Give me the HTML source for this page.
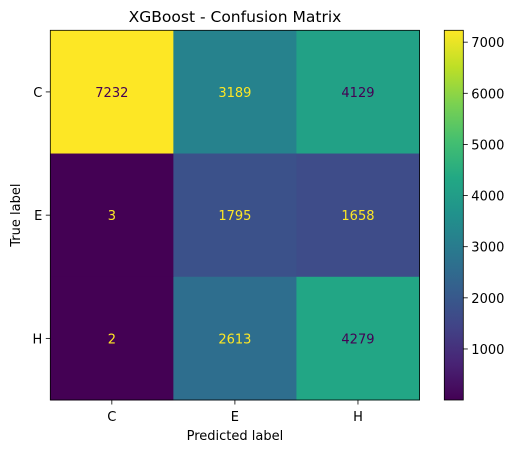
<!DOCTYPE html>
<html><head><meta charset="utf-8"><style>
html,body{margin:0;padding:0;background:#fff;}
svg{display:block;font-family:"DejaVu Sans","Liberation Sans",sans-serif;}
</style></head><body>
<svg id="chart" width="517" height="453" xmlns="http://www.w3.org/2000/svg">
<text x="235" y="22" font-size="15.5" text-anchor="middle" fill="#000">XGBoost - Confusion Matrix</text>
<g id="cells"></g>
<g id="axes"></g>
<defs><linearGradient id="vir" x1="0" y1="1" x2="0" y2="0"></linearGradient></defs>
<g id="cbar"></g>
</svg>
<script>
const classes = ["C","E","H"];
const rowC = [7232,3189,4129];
const rowE = [3,1795,1658];
const rowH = [2,2613,4279];
const cbTicks = [1000,2000,3000,4000,5000,6000,7000];
const matrix = [rowC,rowE,rowH];
const NS="http://www.w3.org/2000/svg";
const FS="13";
const stops=["#440154","#482475","#414487","#355f8d","#2a788e","#21918c","#22a884","#44bf70","#7ad151","#bddf26","#fde725"];
function hex(h){return [1,3,5].map(i=>parseInt(h.substr(i,2),16));}
function viridis(t){t=Math.max(0,Math.min(1,t));const p=t*10,i=Math.min(9,Math.floor(p)),f=p-i;const a=hex(stops[i]),b=hex(stops[i+1]);return "rgb("+a.map((v,k)=>Math.round(v+(b[k]-v)*f)).join(",")+")";}
const all=matrix.flat();const vmin=Math.min(...all),vmax=Math.max(...all);
const X0=50.3,X1=419.5,Y0=30.3,Y1=400;
const cw=(X1-X0)/classes.length,ch=(Y1-Y0)/classes.length;
const xs=j=>X0+j*cw, ys=i=>Y0+i*ch;
function el(tag,attrs,parent){const e=document.createElementNS(NS,tag);for(const k in attrs)e.setAttribute(k,attrs[k]);parent.appendChild(e);return e;}
const cells=document.getElementById("cells"),axes=document.getElementById("axes"),cbar=document.getElementById("cbar");
matrix.forEach((row,i)=>row.forEach((v,j)=>{
  const r=el("rect",{x:xs(j),y:ys(i),width:cw+0.5,height:ch+0.5,fill:viridis((v-vmin)/(vmax-vmin))},cells);
  
  
  const t=el("text",{x:xs(j)+cw/2,y:ys(i)+ch/2+5,"font-size":FS,"text-anchor":"middle",fill:v<(vmin+vmax)/2?"#fde725":"#440154"},cells);
  t.textContent=v;
  
  
}));
const fr=el("rect",{x:X0,y:Y0,width:X1-X0,height:Y1-Y0,fill:"none",stroke:"#000","stroke-width":"0.8"},axes);


classes.forEach((c,k)=>{
  const cx=xs(k)+cw/2;
  el("line",{x1:cx,x2:cx,y1:Y1,y2:Y1+4.5,stroke:"#000","stroke-width":"0.8"},axes);
  const tx=el("text",{x:cx,y:Y1+21,"font-size":FS,"text-anchor":"middle"},axes);tx.textContent=c;
  
  
  const cy=ys(k)+ch/2;
  el("line",{x1:X0-4.5,x2:X0,y1:cy,y2:cy,stroke:"#000","stroke-width":"0.8"},axes);
  const ty=el("text",{x:X0-8,y:cy+5,"font-size":FS,"text-anchor":"end"},axes);ty.textContent=c;
  
  
});
const xl=el("text",{x:(X0+X1)/2,y:440,"font-size":FS,"text-anchor":"middle"},axes);xl.textContent="Predicted label";


const yl=el("text",{x:0,y:0,"font-size":FS,"text-anchor":"middle",transform:"translate(20,"+((Y0+Y1)/2)+") rotate(-90)"},axes);yl.textContent="True label";


const g=document.getElementById("vir");
stops.forEach((s,i)=>el("stop",{offset:(i/10),"stop-color":s},g));
const CX0=444.3,CX1=463.3;
const cy=v=>Y1-(v-vmin)/(vmax-vmin)*(Y1-Y0);
const cr=el("rect",{x:CX0,y:Y0,width:CX1-CX0,height:Y1-Y0,fill:"url(#vir)",stroke:"#000","stroke-width":"0.8"},cbar);


cbTicks.forEach(v=>{
  const y=cy(v);
  el("line",{x1:CX1,x2:CX1+4.5,y1:y,y2:y,stroke:"#000","stroke-width":"0.8"},cbar);
  const t=el("text",{x:CX1+8,y:y+5,"font-size":FS},cbar);t.textContent=v;
  
  
});
</script>
</body></html>
